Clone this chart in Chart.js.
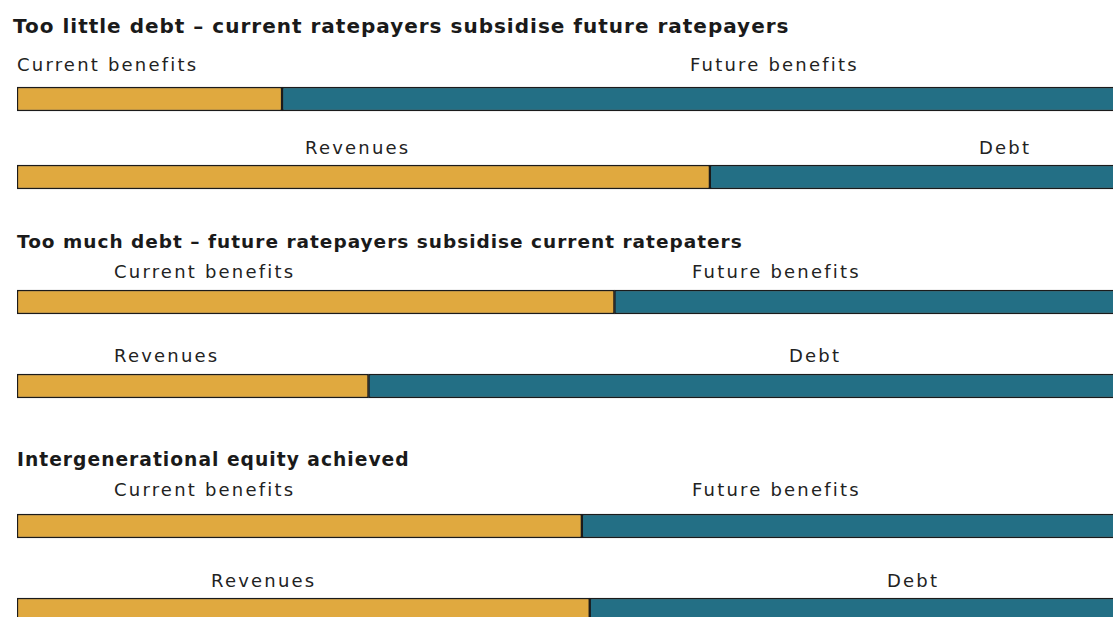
<!DOCTYPE html>
<html>
<head>
<meta charset="utf-8">
<script src="https://cdn.jsdelivr.net/npm/chart.js@4.4.0/dist/chart.umd.min.js"></script>
<style>
  html, body { margin: 0; padding: 0; background: #fff; }
  #wrap { position: relative; width: 1113px; height: 617px; overflow: hidden; font-family: "DejaVu Sans", sans-serif; color: #1a1a1a; }
  .title { position: absolute; font-weight: bold; font-size: 20px; line-height: 22px; letter-spacing: 1px; white-space: nowrap; }
  .lbl { position: absolute; font-size: 18px; line-height: 20px; white-space: nowrap; letter-spacing: 2.2px; color: #222; }
  canvas { position: absolute; left: 0; }
</style>
</head>
<body>
<div id="wrap"></div>
<script>
// data
const groupTitles = [
    'Too little debt \u2013 current ratepayers subsidise future ratepayers',
    'Too much debt \u2013 future ratepayers subsidise current ratepaters',
    'Intergenerational equity achieved'
];
const leftLabels = ['Current benefits', 'Revenues', 'Current benefits', 'Revenues', 'Current benefits', 'Revenues'];
const rightLabels = ['Future benefits', 'Debt', 'Future benefits', 'Debt', 'Future benefits', 'Debt'];
const leftValues = [23.6, 61.7, 53.2, 31.3, 50.3, 51.0];
const rightValues = [76.4, 38.3, 46.8, 68.7, 49.7, 49.0];

// layout (px)
const titleTops = [15, 231, 449];
const titleLefts = [13, 17, 17];
const titleSizes = [20, 18.5, 18.7];
const labelTops = [55, 138, 262, 346, 480, 571];
const leftLabelX = [17, 305, 114, 114, 114, 211];
const rightLabelX = [690, 979, 692, 789, 692, 887];
const barTops = [84, 162, 287, 371, 511, 595];

const gold = '#E0A93F';
const teal = '#236F85';
const edge = '#1b1b1b';

const wrap = document.getElementById('wrap');

groupTitles.forEach((t, i) => {
    var d = document.createElement('div');
    d.className = 'title';
    d.textContent = t;
    d.style.top = titleTops[i] + 'px';
    d.style.left = titleLefts[i] + 'px';
    d.style.fontSize = titleSizes[i] + 'px';
    wrap.appendChild(d);
});

for (let i = 0; i < leftValues.length; i++) {
    var a = document.createElement('div');
    a.className = 'lbl';
    a.textContent = leftLabels[i];
    a.style.top = labelTops[i] + 'px';
    a.style.left = leftLabelX[i] + 'px';
    wrap.appendChild(a);

    var b = document.createElement('div');
    b.className = 'lbl';
    b.textContent = rightLabels[i];
    b.style.top = labelTops[i] + 'px';
    b.style.left = rightLabelX[i] + 'px';
    wrap.appendChild(b);

    var c = document.createElement('canvas');
    c.width = 1140;
    c.height = 30;
    c.style.top = barTops[i] + 'px';
    wrap.appendChild(c);

    new Chart(c.getContext('2d'), {
        type: 'bar',
        data: {
            labels: [leftLabels[i]],
            datasets: [
                { label: leftLabels[i], data: [leftValues[i]], backgroundColor: gold, borderColor: edge, borderWidth: 1.5, borderSkipped: false, barThickness: 24 },
                { label: rightLabels[i], data: [rightValues[i]], backgroundColor: teal, borderColor: edge, borderWidth: 1.5, borderSkipped: false, barThickness: 24 }
            ]
        },
        options: {
            indexAxis: 'y',
            responsive: false,
            animation: false,
            layout: { padding: { left: 17, right: 0, top: 0, bottom: 0 } },
            scales: {
                x: { stacked: true, min: 0, max: 100, display: false },
                y: { stacked: true, display: false }
            },
            plugins: { legend: { display: false }, tooltip: { enabled: false } }
        }
    });
}
</script>
</body>
</html>
